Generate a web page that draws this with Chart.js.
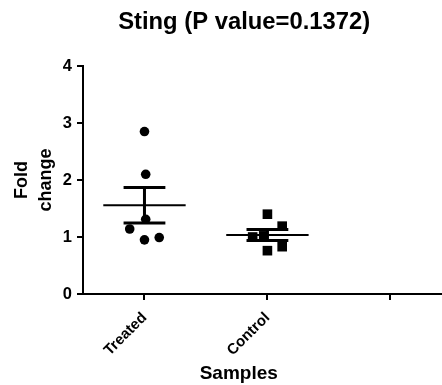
<!DOCTYPE html>
<html>
<head>
<meta charset="utf-8">
<script src="https://cdn.jsdelivr.net/npm/chart.js@4.4.1/dist/chart.umd.min.js"></script>
<style>
  html, body { margin: 0; padding: 0; background: #fff; }
  #wrap { width: 442px; height: 385px; }
</style>
</head>
<body>
<div id="wrap"><canvas id="c" width="442" height="385"></canvas></div>
<script>
// ---- data ----
const categories = ['Treated', 'Control', ''];
const treatedValues = [2.85, 2.10, 1.31, 1.14, 0.95, 0.99];
const treatedJitter = [0, 0.01, 0.01, -0.12, 0, 0.12];
const controlValues = [1.40, 1.19, 1.00, 1.02, 0.76, 0.83];
const controlJitter = [0, 0.12, -0.12, -0.03, 0, 0.12];
const yTicks = [0, 1, 2, 3, 4];

const FONT = "'Liberation Sans', Arial, sans-serif";

function toPoints(values, jitter, group) {
  return values.map((v, i) => ({ x: group + jitter[i], y: v }));
}

function meanSem(values) {
  const n = values.length;
  const m = values.reduce((a, b) => a + b, 0) / n;
  const sd = Math.sqrt(values.reduce((a, b) => a + (b - m) * (b - m), 0) / (n - 1));
  return { mean: m, sem: sd / Math.sqrt(n) };
}

const groups = [
  { values: treatedValues, index: 0 },
  { values: controlValues, index: 1 }
];

const meanSemPlugin = {
  id: 'meanSem',
  afterDatasetsDraw(chart) {
    const { ctx, scales: { x, y } } = chart;
    ctx.save();
    ctx.strokeStyle = '#000';
    groups.forEach(g => {
      const { mean, sem } = meanSem(g.values);
      const py = y.getPixelForValue(mean);
      const pTop = y.getPixelForValue(mean + sem);
      const pBot = y.getPixelForValue(mean - sem);
      const cx = x.getPixelForValue(g.index);
      const mL = x.getPixelForValue(g.index - 0.335);
      const mR = x.getPixelForValue(g.index + 0.335);
      const cL = x.getPixelForValue(g.index - 0.17);
      const cR = x.getPixelForValue(g.index + 0.17);
      ctx.lineWidth = 2;
      ctx.beginPath();
      ctx.moveTo(mL, py); ctx.lineTo(mR, py);
      ctx.stroke();
      ctx.lineWidth = 3;
      ctx.beginPath();
      ctx.moveTo(cx, pTop); ctx.lineTo(cx, pBot);
      ctx.moveTo(cL, pTop); ctx.lineTo(cR, pTop);
      ctx.moveTo(cL, pBot); ctx.lineTo(cR, pBot);
      ctx.stroke();
    });
    ctx.restore();
  }
};

new Chart(document.getElementById('c'), {
  type: 'scatter',
  data: {
    datasets: [
      {
        label: 'Treated',
        data: toPoints(treatedValues, treatedJitter, 0),
        pointStyle: 'circle',
        pointRadius: 4.8,
        backgroundColor: '#000',
        borderColor: '#000',
        borderWidth: 0
      },
      {
        label: 'Control',
        data: toPoints(controlValues, controlJitter, 1),
        pointStyle: 'rect',
        pointRadius: 6.8,
        backgroundColor: '#000',
        borderColor: '#000',
        borderWidth: 0
      }
    ]
  },
  options: {
    responsive: false,
    animation: false,
    devicePixelRatio: 1,
    layout: { padding: 0, autoPadding: false },
    plugins: {
      legend: { display: false },
      tooltip: { enabled: false },
      title: {
        display: true,
        text: '       Sting (P value=0.1372)',
        color: '#000',
        font: { family: FONT, size: 23.8, weight: 'bold', lineHeight: 1.2 },
        padding: { top: 8, bottom: 29.4 }
      }
    },
    scales: {
      x: {
        type: 'linear',
        min: -0.5,
        max: 2.42,
        afterFit(scale) { scale.height = 91; scale.paddingLeft = 0; scale.paddingRight = 0; },
        afterBuildTicks(scale) {
          scale.ticks = categories.map((c, i) => ({ value: i }));
        },
        ticks: {
          autoSkip: false,
          maxRotation: 45,
          minRotation: 45,
          padding: 9,
          color: '#000',
          font: { family: FONT, size: 15, weight: 'bold' },
          callback: (v) => categories[v] !== undefined ? categories[v] : ''
        },
        grid: { drawOnChartArea: false, drawTicks: true, tickLength: 6, color: '#000', lineWidth: 2 },
        border: { display: true, color: '#000', width: 2 },
        title: {
          display: true,
          text: 'Samples         ',
          color: '#000',
          font: { family: FONT, size: 19, weight: 'bold', lineHeight: 1.2 },
          padding: { top: 0, bottom: 0 }
        }
      },
      y: {
        min: 0,
        max: 4,
        afterFit(scale) { scale.width = 83; scale.paddingTop = 0; scale.paddingBottom = 0; },
        afterBuildTicks(scale) {
          scale.ticks = yTicks.map(v => ({ value: v }));
        },
        ticks: {
          padding: 5,
          color: '#000',
          font: { family: FONT, size: 16.5, weight: 'bold' }
        },
        grid: { drawOnChartArea: false, drawTicks: true, tickLength: 6, color: '#000', lineWidth: 2 },
        border: { display: true, color: '#000', width: 2 },
        title: {
          display: true,
          text: ['Fold', 'change'],
          color: '#000',
          font: { family: FONT, size: 18, weight: 'bold', lineHeight: 1.35 },
          padding: { top: 10, bottom: 0 }
        }
      }
    }
  },
  plugins: [meanSemPlugin]
});
</script>
</body>
</html>
